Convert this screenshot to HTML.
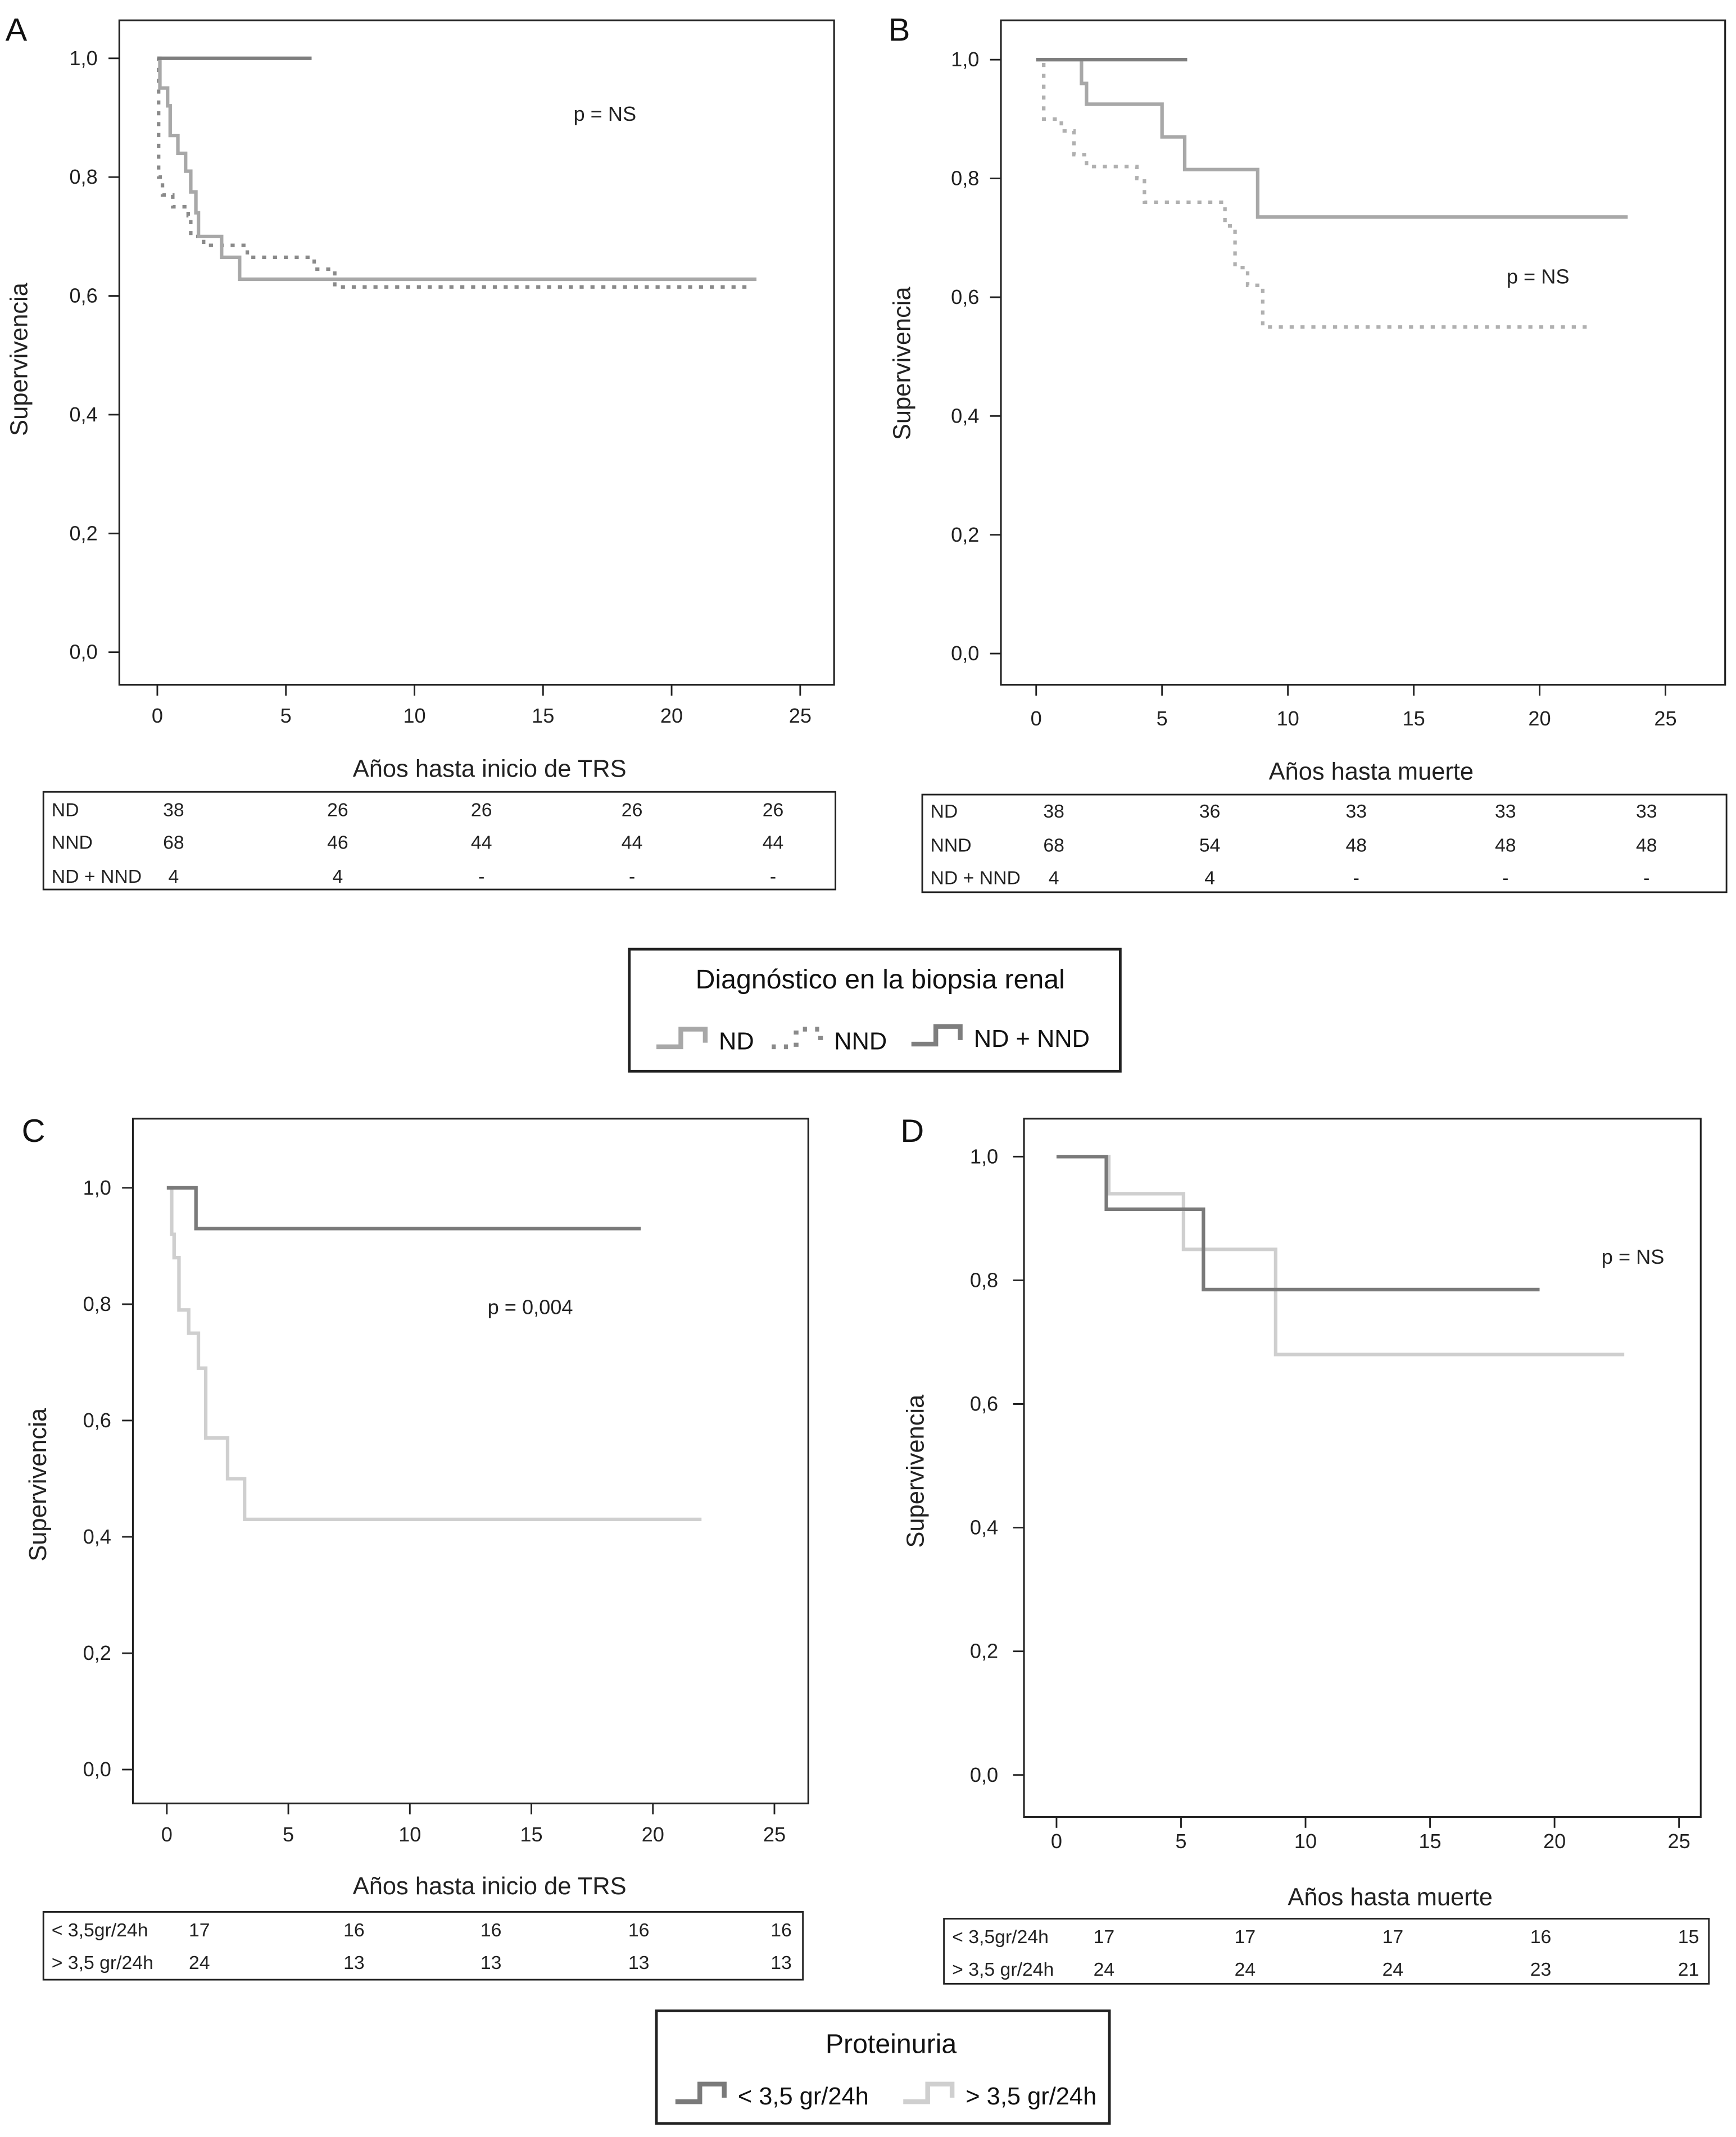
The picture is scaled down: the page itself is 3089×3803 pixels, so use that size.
<!DOCTYPE html>
<html><head><meta charset="utf-8">
<style>
html,body{margin:0;padding:0;background:#fff;}
svg{display:block;font-family:"Liberation Sans",Arial,sans-serif;}
</style></head>
<body>
<svg id="fig" width="3089" height="3803" viewBox="0 0 1280 1576" preserveAspectRatio="none" xmlns="http://www.w3.org/2000/svg"></svg>
<script>
// ---- data ----
const xTicks = [0,5,10,15,20,25];
const yTicks = [0,0.2,0.4,0.6,0.8,1.0];
const yTickLabels = ["0,0","0,2","0,4","0,6","0,8","1,0"];
// Panel A
const aNDt = [0,0.1,0.4,0.5,0.8,1.1,1.3,1.5,1.6,2.5,3.2,23.3];
const aNDs = [1,0.95,0.92,0.87,0.84,0.81,0.775,0.74,0.70,0.665,0.628,0.628];
const aNNDt = [0,0.05,0.2,0.6,1.2,1.3,1.8,3.5,6.1,6.9,23];
const aNNDs = [1,0.80,0.77,0.75,0.735,0.70,0.685,0.665,0.645,0.615,0.615];
const aBothT = [0,6];
const aBothS = [1,1];
// Panel B
const bNDt = [0,1.8,2.0,5.0,5.9,8.8,23.5];
const bNDs = [1,0.96,0.925,0.87,0.815,0.735,0.735];
const bNNDt = [0,0.3,1.0,1.5,2.0,4.0,4.3,7.5,7.9,8.4,9.0,22];
const bNNDs = [1,0.90,0.88,0.84,0.82,0.80,0.76,0.72,0.65,0.62,0.55,0.55];
const bBothT = [0,6];
const bBothS = [1,1];
// Panel C
const cLowT = [0,1.2,19.5];
const cLowS = [1,0.93,0.93];
const cHighT = [0,0.2,0.3,0.5,0.9,1.3,1.6,2.5,3.2,22];
const cHighS = [1,0.92,0.88,0.79,0.75,0.69,0.57,0.50,0.43,0.43];
// Panel D
const dLowT = [0,2.0,5.9,19.4];
const dLowS = [1,0.915,0.785,0.785];
const dHighT = [0,2.1,5.1,8.8,22.8];
const dHighS = [1,0.94,0.85,0.68,0.68];
// Tables
const tabA = [["ND","38","26","26","26","26"],["NND","68","46","44","44","44"],["ND + NND","4","4","-","-","-"]];
const tabB = [["ND","38","36","33","33","33"],["NND","68","54","48","48","48"],["ND + NND","4","4","-","-","-"]];
const tabC = [["< 3,5gr/24h","17","16","16","16","16"],["> 3,5 gr/24h","24","13","13","13","13"]];
const tabD = [["< 3,5gr/24h","17","17","17","16","15"],["> 3,5 gr/24h","24","24","24","23","21"]];

const NS="http://www.w3.org/2000/svg";
const svg=document.getElementById('fig');
function mk(tag,attrs,parent,text){const e=document.createElementNS(NS,tag);for(const k in attrs)e.setAttribute(k,attrs[k]);if(text!==undefined)e.textContent=text;(parent||svg).appendChild(e);return e;}

function panel(P){
  const g=mk('g',{});
  
  
  const sx=v=>P.x0+(P.x25-P.x0)*v/25, sy=v=>P.y0+(P.y1-P.y0)*v;
  const box=mk('rect',{x:P.bx,y:P.by,width:P.bw,height:P.bh,fill:'none',stroke:'#222','stroke-width':1.3},g);
  
  const L=mk('text',{x:P.lx,y:P.ly,'font-size':24,fill:'#111'},g,P.letter);
  
  yTicks.forEach((v,i)=>{
    mk('line',{x1:P.bx-8,x2:P.bx,y1:sy(v),y2:sy(v),stroke:'#222','stroke-width':1.2},g);
    const t=mk('text',{x:P.bx-(P.tlo||16),y:sy(v)+5,'font-size':15,'text-anchor':'end',fill:'#222'},g,yTickLabels[i]);
    
  });
  xTicks.forEach(v=>{
    mk('line',{x1:sx(v),x2:sx(v),y1:P.by+P.bh,y2:P.by+P.bh+8,stroke:'#222','stroke-width':1.2},g);
    const t=mk('text',{x:sx(v),y:P.xly,'font-size':15,'text-anchor':'middle',fill:'#222'},g,String(v));
    
  });
  const yt=mk('text',{x:0,y:0,'font-size':18,'text-anchor':'middle',fill:'#222',transform:`translate(${P.ytx},${P.yty}) rotate(-90)`},g,'Supervivencia');
  
  const xt=mk('text',{x:P.xtx,y:P.xty,'font-size':18,'text-anchor':'middle',fill:'#222'},g,P.xtitle);
  
  const pv=mk('text',{x:P.px,y:P.py,'font-size':15,'text-anchor':'middle',fill:'#222'},g,P.ptext);
  
  P.series.forEach(s=>{
    let d=`M${sx(s.t[0])},${sy(s.s[0])}`;
    for(let i=1;i<s.t.length;i++){d+=` H${sx(s.t[i])} V${sy(s.s[i])}`;}
    const p=mk('path',{d:d,fill:'none',stroke:s.c,'stroke-width':2.6,'stroke-dasharray':s.dash||'none'},g);
    
  });
  // table
  const T=P.tab;
  const tb=mk('rect',{x:T.x,y:T.y,width:T.w,height:T.h,fill:'none',stroke:'#222','stroke-width':1.2},g);
  
  T.rows.forEach((r,ri)=>{
    const ry=T.ry[ri]+5;
    mk('text',{x:T.x+6,y:ry,'font-size':14,fill:'#222'},g,r[0]);
    for(let k=1;k<6;k++){
      const c=mk('text',{x:T.cols[k-1],y:ry,'font-size':14,'text-anchor':'middle',fill:'#222'},g,r[k]);
      
    }
  });
}

panel({id:'a',letter:'A',lx:4,ly:30,bx:88,by:15,bw:527,bh:490,x0:116,x25:590,y0:481,y1:43,xly:533,
  ytx:20,yty:265,xtx:361,xty:573,xtitle:'Años hasta inicio de TRS',px:446,py:89,ptext:'p = NS',
  series:[{t:aNNDt,s:aNNDs,c:'#8a8a8a',dash:'3 5',name:'curve-a-nnd'},{t:aNDt,s:aNDs,c:'#a8a8a8',name:'curve-a-nd'},{t:aBothT,s:aBothS,c:'#7e7e7e',name:'curve-a-nd-nnd'}],
  tab:{x:32,y:584,w:584,h:72,ry:[597,621,646],rows:tabA,cols:[128,249,355,466,570]}});
panel({id:'b',letter:'B',lx:655,ly:30,bx:738,by:15,bw:534,bh:490,x0:764,x25:1228,y0:482,y1:44,xly:535,
  ytx:671,yty:268,xtx:1011,xty:575,xtitle:'Años hasta muerte',px:1134,py:209,ptext:'p = NS',
  series:[{t:bNNDt,s:bNNDs,c:'#b0b0b0',dash:'3 5',name:'curve-b-nnd'},{t:bNDt,s:bNDs,c:'#a8a8a8',name:'curve-b-nd'},{t:bBothT,s:bBothS,c:'#7e7e7e',name:'curve-b-nd-nnd'}],
  tab:{x:680,y:586,w:593,h:72,ry:[598,623,647],rows:tabB,cols:[777,892,1000,1110,1214]}});
panel({id:'c',letter:'C',lx:16,ly:842,bx:98,by:825,bw:498,bh:505,x0:123,x25:571,y0:1305,y1:876,xly:1358,
  ytx:34,yty:1095,xtx:361,xty:1397,xtitle:'Años hasta inicio de TRS',px:391,py:969,ptext:'p = 0,004',
  series:[{t:cHighT,s:cHighS,c:'#cfcfcf',name:'curve-c-high-proteinuria'},{t:cLowT,s:cLowS,c:'#7a7a7a',name:'curve-c-low-proteinuria'}],
  tab:{x:32,y:1410,w:560,h:50,ry:[1423,1447],rows:tabC,cols:[147,261,362,471,576]}});
panel({id:'d',letter:'D',lx:664,ly:842,bx:755,by:825,bw:499,bh:515,x0:779,x25:1238,y0:1309,y1:853,xly:1363,tlo:19,
  ytx:681,yty:1085,xtx:1025,xty:1405,xtitle:'Años hasta muerte',px:1204,py:932,ptext:'p = NS',
  series:[{t:dHighT,s:dHighS,c:'#cfcfcf',name:'curve-d-high-proteinuria'},{t:dLowT,s:dLowS,c:'#7a7a7a',name:'curve-d-low-proteinuria'}],
  tab:{x:696,y:1415,w:564,h:48,ry:[1428,1452],rows:tabD,cols:[814,918,1027,1136,1245]}});

// legends
function legend(x,y,w,h,title,tx,ty,items,name){
  const g=mk('g',{});
  
  
  mk('rect',{x:x,y:y,width:w,height:h,fill:'#fff',stroke:'#222','stroke-width':2},g);
  mk('text',{x:tx,y:ty,'font-size':20,'text-anchor':'middle',fill:'#111'},g,title);
  items.forEach(it=>{
    const p=mk('path',{d:`M${it.x},${it.y+5} h18 v-13 h18 v10`,fill:'none',stroke:it.c,'stroke-width':3.5,'stroke-dasharray':it.dash||'none'},g);
    
    const t=mk('text',{x:it.x+46,y:it.y+7,'font-size':18,fill:'#111'},g,it.label);
    
  });
}
legend(464,700,362,90,'Diagnóstico en la biopsia renal',649,729,[
  {x:484,y:767,c:'#a8a8a8',label:'ND'},
  {x:569,y:767,c:'#8a8a8a',dash:'3 6',label:'NND'},
  {x:672,y:765,c:'#7e7e7e',label:'ND + NND'}],'legend-diagnosis');
legend(484,1483,334,83,'Proteinuria',657,1514,[
  {x:498,y:1545,c:'#7a7a7a',label:'< 3,5 gr/24h'},
  {x:666,y:1545,c:'#cfcfcf',label:'> 3,5 gr/24h'}],'legend-proteinuria');
</script>
</body></html>
